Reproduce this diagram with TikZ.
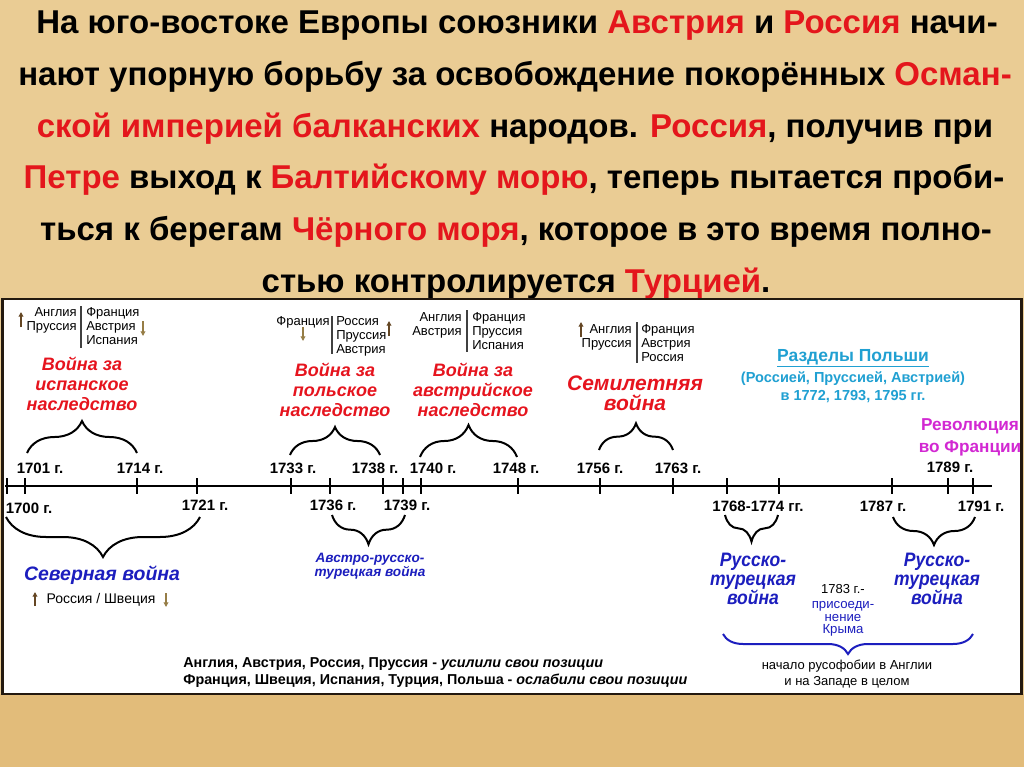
\documentclass[tikz,border=0pt]{standalone}
\usepackage{fontspec}
\setmainfont{Liberation Sans}
\usetikzlibrary{decorations.pathreplacing,arrows.meta}
\definecolor{parch}{RGB}{234,204,148}
\definecolor{parchd}{RGB}{226,188,122}
\definecolor{hred}{RGB}{228,22,28}
\definecolor{wred}{RGB}{230,20,30}
\definecolor{dblue}{RGB}{28,30,190}
\definecolor{cyanb}{RGB}{32,160,210}
\definecolor{magen}{RGB}{210,40,210}
\definecolor{brownup}{RGB}{100,70,35}
\definecolor{browndn}{RGB}{150,125,70}
\definecolor{framec}{RGB}{35,25,15}
\newcommand\rd[1]{\textcolor{hred}{#1}}
\newcommand\fsz[2]{\fontsize{#1}{#2}\selectfont}
\begin{document}
\begin{tikzpicture}[x=0.75pt,y=-0.75pt,
  hdr/.style={font=\fsz{24.75pt}{30pt}\bfseries,inner sep=0pt,anchor=base},
  yr/.style={font=\fsz{11.25pt}{13pt}\bfseries,inner sep=0pt,anchor=base},
  lst/.style={font=\fsz{9.75pt}{10.6pt},inner sep=0pt},
  lstL/.style={lst,align=right,anchor=north east},
  lstR/.style={lst,align=left,anchor=north west},
  war/.style={font=\fsz{13.5pt}{15pt}\bfseries\itshape,text=wred,align=center,inner sep=0pt,anchor=north},
  bwar/.style={font=\fsz{14.6pt}{14.3pt}\bfseries\itshape,text=dblue,align=center,inner sep=0pt,anchor=north},
  divl/.style={line width=1pt,black!75},
  tickm/.style={line width=2.2pt,black},
  brc/.style={decorate,line width=1.5pt,black},
  uparr/.style={-{Triangle[length=3.5pt,width=3.5pt]},line width=0.9pt,brownup},
  dnarr/.style={-{Triangle[length=3.5pt,width=3.5pt]},line width=0.9pt,browndn}]
\useasboundingbox (0,0) rectangle (1024,767);
\fill[parch] (0,0) rectangle (1024,767);
\fill[parchd] (0,694) rectangle (1024,767);
% header
\node[hdr] (h1) at (517,34) {На юго-востоке Европы союзники \rd{Австрия} и \rd{Россия} начи-};
\node[hdr] (h2) at (515,85.6) {нают упорную борьбу за освобождение покорённых \rd{Осман-}};
\node[hdr] (h3) at (515,137.2) {\rd{ской империей балканских} народов. \rd{Россия}, получив при};
\node[hdr] (h4) at (514,188.8) {\rd{Петре} выход к \rd{Балтийскому морю}, теперь пытается проби-};
\node[hdr] (h5) at (516,240.4) {ться к берегам \rd{Чёрного моря}, которое в это время полно-};
\node[hdr] (h6) at (516,292) {стью контролируется \rd{Турцией}.};
% panel
\draw[line width=2.2pt,draw=framec,fill=white] (2.5,299) rectangle (1021.5,694);
% axis
\coordinate (axL) at (5,486);
\coordinate (axR) at (992,486);
\draw[line width=2.2pt] (axL) -- (axR);
\foreach \t in {7,25,137,197,291,330,383,403,421,518,600,673,727,779,892,948,973}
  \draw[tickm] (\t,478) -- (\t,494);
% years above
\node[yr] (y1701) at (40,473) {1701 г.};
\node[yr] (y1714) at (140,473) {1714 г.};
\node[yr] (y1733) at (293,473) {1733 г.};
\node[yr] (y1738) at (375,473) {1738 г.};
\node[yr] (y1740) at (433,473) {1740 г.};
\node[yr] (y1748) at (516,473) {1748 г.};
\node[yr] (y1756) at (600,473) {1756 г.};
\node[yr] (y1763) at (678,473) {1763 г.};
\node[yr] (y1789) at (950,472) {1789 г.};
% years below
\node[yr] (y1700) at (29,513) {1700 г.};
\node[yr] (y1721) at (205,510) {1721 г.};
\node[yr] (y1736) at (333,510) {1736 г.};
\node[yr] (y1739) at (407,510) {1739 г.};
\node[yr] (y1768) at (758,511) {1768-1774 гг.};
\node[yr] (y1787) at (883,511) {1787 г.};
\node[yr] (y1791) at (981,511) {1791 г.};
% group 1
\node[lstL] (g1l) at (77,307) {Англия\\Пруссия};
\node[lstR] (g1r) at (86,307) {Франция\\Австрия\\Испания};
\draw[divl] (81,306) -- (81,348);
\draw[uparr] (21,327) -- (21,312);
\draw[dnarr] (143,321) -- (143,336);
\node[war] (w1) at (82,357) {Война за\\испанское\\наследство};
\coordinate (b1a) at (27,453); \coordinate (b1b) at (137,453);
\draw[brc,decoration={brace,amplitude=24pt}] (b1a) -- (b1b);
% group 2
\node[lstL] (g2l) at (330,316) {Франция};
\node[lstR] (g2r) at (336,316) {Россия\\Пруссия\\Австрия};
\draw[divl] (332,316) -- (332,354);
\draw[dnarr] (303,327) -- (303,341);
\draw[uparr] (389,336) -- (389,321);
\node[war] (w2) at (335,363) {Война за\\польское\\наследство};
\coordinate (b2a) at (290,455); \coordinate (b2b) at (380,455);
\draw[brc,decoration={brace,amplitude=21pt}] (b2a) -- (b2b);
% group 3
\node[lstL] (g3l) at (462,312) {Англия\\Австрия};
\node[lstR] (g3r) at (472,312) {Франция\\Пруссия\\Испания};
\draw[divl] (467,310) -- (467,352);
\node[war] (w3) at (473,363) {Война за\\австрийское\\наследство};
\coordinate (b3a) at (420,457); \coordinate (b3b) at (517,457);
\draw[brc,decoration={brace,amplitude=24pt}] (b3a) -- (b3b);
% group 4
\node[lstL] (g4l) at (632,324) {Англия\\Пруссия};
\node[lstR] (g4r) at (641,324) {Франция\\Австрия\\Россия};
\draw[divl] (637,322) -- (637,363);
\draw[uparr] (581,337) -- (581,322);
\node[war,font=\fsz{15.75pt}{15pt}\bfseries\itshape] (w4) at (635,376) {Семилетняя\\война};
\coordinate (b4a) at (599,450); \coordinate (b4b) at (673,450);
\draw[brc,decoration={brace,amplitude=20pt}] (b4a) -- (b4b);
% partitions of Poland
\node[font=\fsz{13.1pt}{15pt}\bfseries,text=cyanb,inner sep=0pt,anchor=base] (p1) at (853,361) {\underline{Разделы Польши}};
\node[font=\fsz{10.9pt}{13pt}\bfseries,text=cyanb,inner sep=0pt,anchor=base] (p2) at (853,382) {(Россией, Пруссией, Австрией)};
\node[font=\fsz{10.9pt}{13pt}\bfseries,text=cyanb,inner sep=0pt,anchor=base] (p3) at (853,400) {в 1772, 1793, 1795 гг.};
% revolution
\node[font=\fsz{12.9pt}{16.5pt}\bfseries,text=magen,align=center,inner sep=0pt,anchor=north] (rev) at (970,418) {Революция\\во Франции};
% northern war
\coordinate (n1a) at (6,517); \coordinate (n1b) at (200,517);
\draw[brc,decoration={brace,mirror,amplitude=30pt}] (n1a) -- (n1b);
\node[font=\fsz{14.6pt}{16pt}\bfseries\itshape,text=dblue,inner sep=0pt,anchor=base] (sev) at (102,580) {Северная война};
\node[font=\fsz{10.5pt}{12pt},inner sep=0pt,anchor=base] (rs) at (101,603) {Россия / Швеция};
\draw[uparr] (35,606) -- (35,592);
\draw[dnarr] (166,593) -- (166,607);
% austro-russo-turkish
\coordinate (n2a) at (332,515); \coordinate (n2b) at (405,515);
\draw[brc,decoration={brace,mirror,amplitude=22pt}] (n2a) -- (n2b);
\node[font=\fsz{10.2pt}{10.5pt}\bfseries\itshape,text=dblue,align=center,inner sep=0pt,anchor=north] (art) at (370,553) {Австро-русско-\\турецкая война};
% russo-turkish 1
\coordinate (n3a) at (725,515); \coordinate (n3b) at (778,515);
\draw[brc,decoration={brace,mirror,amplitude=20pt}] (n3a) -- (n3b);
\node[bwar] (rt1) at (753,553) {\scalebox{0.9}[1]{Русско-}\\\scalebox{0.9}[1]{турецкая}\\\scalebox{0.9}[1]{война}};
% russo-turkish 2
\coordinate (n4a) at (893,517); \coordinate (n4b) at (975,517);
\draw[brc,decoration={brace,mirror,amplitude=21pt}] (n4a) -- (n4b);
\node[bwar] (rt2) at (937,553) {\scalebox{0.9}[1]{Русско-}\\\scalebox{0.9}[1]{турецкая}\\\scalebox{0.9}[1]{война}};
% crimea
\node[font=\fsz{9.75pt}{11pt},inner sep=0pt,anchor=base] (cr0) at (843,593) {1783 г.-};
\node[font=\fsz{9.9pt}{9.6pt},text=dblue,align=center,inner sep=0pt,anchor=north] (cr1) at (843,601) {присоеди-\\нение\\Крыма};
% big brace
\coordinate (n5a) at (723,634); \coordinate (n5b) at (973,634);
\draw[brc,dblue,decoration={brace,mirror,amplitude=15pt}] (n5a) -- (n5b);
\node[font=\fsz{9.75pt}{11.6pt},align=center,inner sep=0pt,anchor=north] (rus) at (847,660) {начало русофобии в Англии\\и на Западе в целом};
% bottom summary
\node[font=\fsz{10.75pt}{12pt}\bfseries,inner sep=0pt,anchor=base west] (s1) at (183,667) {Англия, Австрия, Россия, Пруссия - \textit{усилили свои позиции}};
\node[font=\fsz{10.75pt}{12pt}\bfseries,inner sep=0pt,anchor=base west] (s2) at (183,684) {Франция, Швеция, Испания, Турция, Польша - \textit{ослабили свои позиции}};
\end{tikzpicture}
\end{document}
